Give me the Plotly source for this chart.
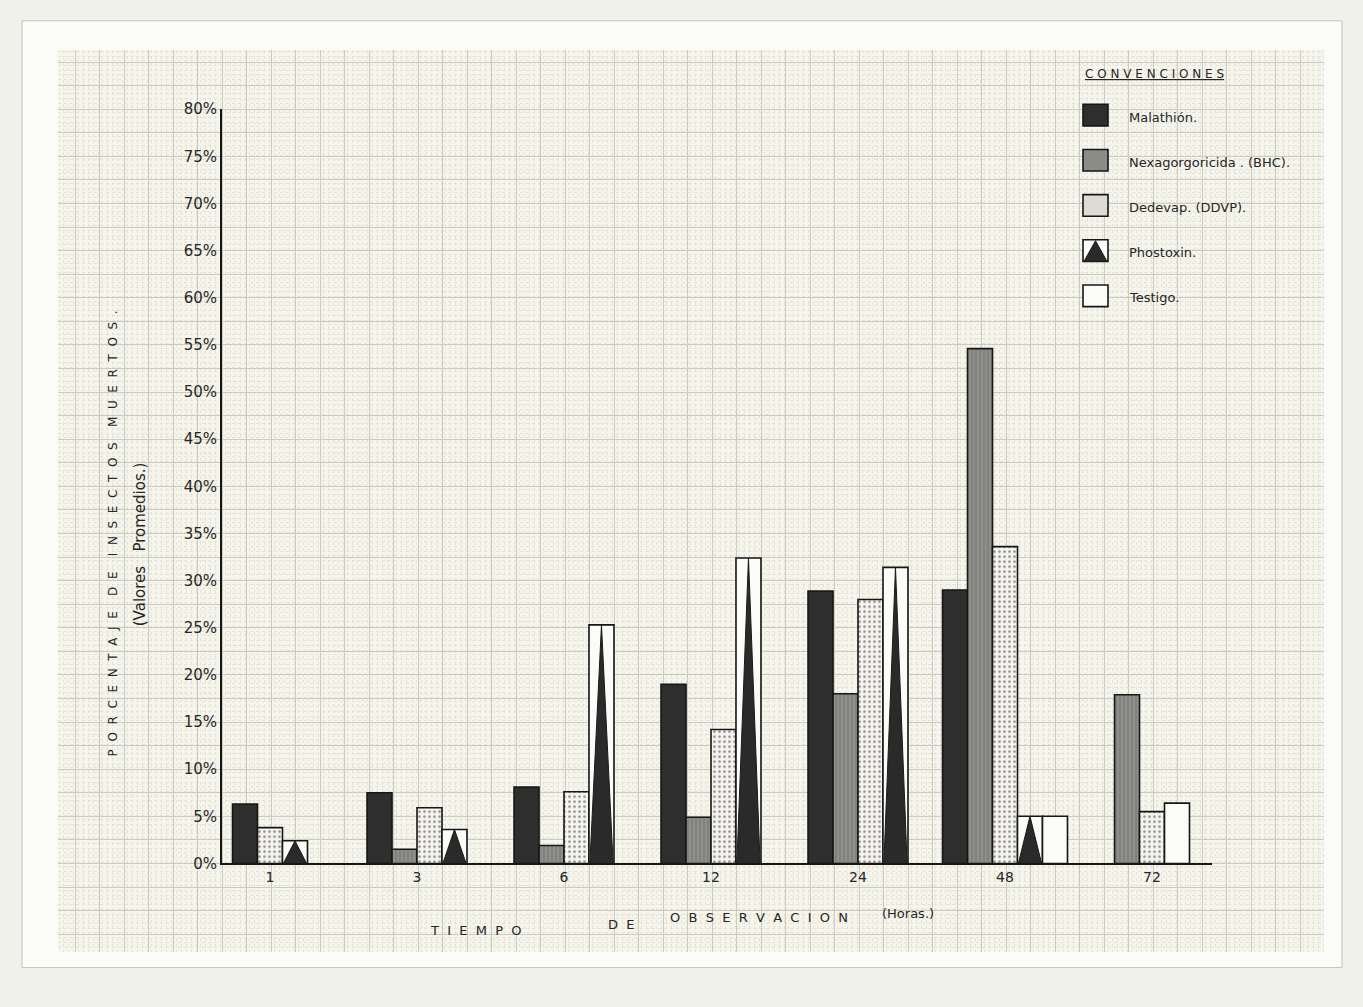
import plotly.graph_objects as go

# ---------------- data ----------------
times = ["1", "3", "6", "12", "24", "48", "72"]
malathion = [6.3, 7.5, 8.1, 19.0, 28.9, 29.0, None]
bhc = [None, 1.5, 1.9, 4.9, 18.0, 54.6, 17.9]
ddvp = [3.8, 5.9, 7.6, 14.2, 28.0, 33.6, 5.5]
phostoxin = [2.4, 3.6, 25.3, 32.4, 31.4, 5.0, None]
testigo = [None, None, None, None, None, 5.0, 6.4]
y_ticks = [0, 5, 10, 15, 20, 25, 30, 35, 40, 45, 50, 55, 60, 65, 70, 75, 80]
series_names = ["Malathión.", "Nexagorgoricida . (BHC).", "Dedevap. (DDVP).",
                "Phostoxin.", "Testigo."]

# ---------------- layout helpers ----------------
W, H = 1363, 1007
INK = "#262626"
FONT = "DejaVu Sans"
NB = "\u00a0"


def fx(p):
    return p / W


def fy(p):
    return 1 - p / H


def spaced(text, gap=1, wordgap=5):
    return (NB * wordgap).join((NB * gap).join(w) for w in text.split(" "))


series = [malathion, bhc, ddvp, phostoxin, testigo]
styles = [
    dict(color="#2e2e2e"),
    dict(color="#8c8c88", pattern=dict(shape="|", bgcolor="#8e8e8a", fgcolor="#6a6a66",
                                       size=4, solidity=0.35)),
    dict(color="#f4f3ee", pattern=dict(shape=".", bgcolor="#f4f3ee", fgcolor="#2b2b2b",
                                       size=5, solidity=0.22)),
    dict(color="#fbfbf8"),
    dict(color="#fbfbf8"),
]

bw = 0.17  # bar width in category units
# compact positions within each time group, from the values that are present
xs = [[] for _ in series]
vs = [[] for _ in series]
for i in range(len(times)):
    present = [k for k in range(len(series)) if series[k][i] is not None]
    n = len(present)
    for j, k in enumerate(present):
        xs[k].append(i + (j - (n - 1) / 2) * bw)
        vs[k].append(series[k][i])

fig = go.Figure()

# empty trace so the background graph-paper subplot is registered
fig.add_trace(go.Scatter(x=[], y=[], xaxis="x", yaxis="y", showlegend=False,
                         hoverinfo="skip"))

for k in range(len(series)):
    fig.add_trace(go.Bar(
        x=xs[k], y=vs[k], width=bw, name=series_names[k],
        xaxis="x2", yaxis="y2",
        marker=dict(**styles[k], line=dict(color="#161616", width=1.6)),
        showlegend=False, hoverinfo="skip",
    ))

# black triangles inside Phostoxin bars
tx, ty = [], []
for x, v in zip(xs[3], vs[3]):
    tx += [x - bw / 2 + 0.006, x, x + bw / 2 - 0.006, None]
    ty += [0, v, 0, None]
fig.add_trace(go.Scatter(
    x=tx, y=ty, mode="lines", fill="toself", fillcolor="#2a2a2a",
    line=dict(color="#1a1a1a", width=1), xaxis="x2", yaxis="y2",
    showlegend=False, hoverinfo="skip",
))

# ---------------- axes ----------------
grid_x0, grid_x1, grid_y0, grid_y1 = 58, 1324, 42, 960
fig.update_layout(
    width=W, height=H, margin=dict(l=0, r=0, t=0, b=0),
    paper_bgcolor="#f1f1ec", plot_bgcolor="rgba(0,0,0,0)",
    barmode="overlay", showlegend=False,
    font=dict(family=FONT, color=INK),
    # background graph-paper grid
    xaxis=dict(domain=[fx(grid_x0), fx(grid_x1)], range=[grid_x0, grid_x1], anchor="y",
               tick0=222, dtick=24.5, showgrid=True, gridcolor="#cbcbc2", gridwidth=1,
               minor=dict(dtick=4.9, showgrid=True, gridcolor="#e3e3da",
                          griddash="dot", gridwidth=1),
               showticklabels=False, zeroline=False, showline=False, ticks="",
               fixedrange=True),
    yaxis=dict(domain=[fy(grid_y1), fy(grid_y0)], range=[grid_y1, grid_y0], anchor="x",
               tick0=870, dtick=24, showgrid=True, gridcolor="#cbcbc2", gridwidth=1,
               minor=dict(dtick=4.8, showgrid=True, gridcolor="#e3e3da",
                          griddash="dot", gridwidth=1),
               showticklabels=False, zeroline=False, showline=False, ticks="",
               fixedrange=True),
    # data axes
    xaxis2=dict(domain=[fx(222), fx(1212)], range=[(222 - 270) / 147, (1212 - 270) / 147],
                anchor="y2", tickvals=list(range(len(times))), ticktext=times,
                showgrid=False, zeroline=False, showline=True, linecolor="#161616",
                linewidth=2, ticks="", tickfont=dict(size=14, color=INK, family=FONT)),
    yaxis2=dict(domain=[fy(870), fy(102)], range=[0, 80], anchor="x2",
                tickvals=y_ticks, ticktext=[f"{v}%" for v in y_ticks],
                showgrid=False, zeroline=False, showline=True, linecolor="#161616",
                linewidth=2, ticks="", tickfont=dict(size=15, color=INK, family=FONT)),
)

# ---------------- sheet decoration ----------------
shapes = [
    dict(type="rect", xref="paper", yref="paper", x0=fx(22), x1=fx(1342), y0=fy(976), y1=fy(12),
         fillcolor="#fbfbf8", line=dict(color="#c4c4ba", width=1), layer="below"),
    dict(type="rect", xref="paper", yref="paper", x0=fx(grid_x0), x1=fx(grid_x1),
         y0=fy(grid_y1), y1=fy(grid_y0), fillcolor="#f6f5ec", line=dict(width=0), layer="below"),
]

# ---------------- custom legend (CONVENCIONES) ----------------
annotations = [
    dict(text="<u>" + spaced("CONVENCIONES", 1) + "</u>", x=fx(1083), y=fy(66), xref="paper",
         yref="paper", xanchor="left", yanchor="middle", showarrow=False,
         font=dict(size=12, color=INK, family=FONT)),
]
swatch_fill = ["#2e2e2e", "#8c8c88", "#dcdbd4", "#fbfbf8", "#fbfbf8"]
for k, name in enumerate(series_names):
    top = 97 + 46 * k
    shapes.append(dict(type="rect", xref="paper", yref="paper", x0=fx(1083), x1=fx(1108),
                       y0=fy(top + 22), y1=fy(top), fillcolor=swatch_fill[k],
                       line=dict(color="#161616", width=1.6)))
    if k == 3:
        shapes.append(dict(type="path", xref="paper", yref="paper",
                           path=f"M{fx(1084)},{fy(top + 22)} L{fx(1095.5)},{fy(top + 1)} "
                                f"L{fx(1107)},{fy(top + 22)} Z",
                           fillcolor="#2a2a2a", line=dict(color="#1a1a1a", width=1)))
    annotations.append(dict(text=name, x=fx(1127), y=fy(top + 13), xref="paper", yref="paper",
                            xanchor="left", yanchor="middle", showarrow=False,
                            font=dict(size=13, color=INK, family=FONT)))

# ---------------- axis titles ----------------
annotations += [
    dict(text=spaced("PORCENTAJE DE INSECTOS MUERTOS.", 2, 4), x=fx(113), y=fy(534),
         xref="paper", yref="paper", textangle=-90, showarrow=False,
         xanchor="center", yanchor="middle", font=dict(size=12, color=INK, family=FONT)),
    dict(text="(Valores" + NB * 3 + "Promedios.)", x=fx(140), y=fy(545),
         xref="paper", yref="paper", textangle=-90, showarrow=False,
         xanchor="center", yanchor="middle", font=dict(size=15, color=INK, family=FONT)),
    dict(text=spaced("TIEMPO", 2), x=fx(428), y=fy(938), xref="paper", yref="paper",
         xanchor="left", yanchor="middle", showarrow=False,
         font=dict(size=13, color=INK, family=FONT)),
    dict(text=spaced("DE", 2), x=fx(606), y=fy(932), xref="paper", yref="paper",
         xanchor="left", yanchor="middle", showarrow=False,
         font=dict(size=13, color=INK, family=FONT)),
    dict(text=spaced("OBSERVACION", 2), x=fx(668), y=fy(925), xref="paper", yref="paper",
         xanchor="left", yanchor="middle", showarrow=False,
         font=dict(size=13, color=INK, family=FONT)),
    dict(text="(Horas.)", x=fx(880), y=fy(921), xref="paper", yref="paper",
         xanchor="left", yanchor="middle", showarrow=False,
         font=dict(size=13, color=INK, family=FONT)),
]

fig.update_layout(shapes=shapes, annotations=annotations)

fig.write_html("out.html", config={"displayModeBar": False},
               post_script="document.body.style.margin='0';document.body.style.overflow='hidden';")
